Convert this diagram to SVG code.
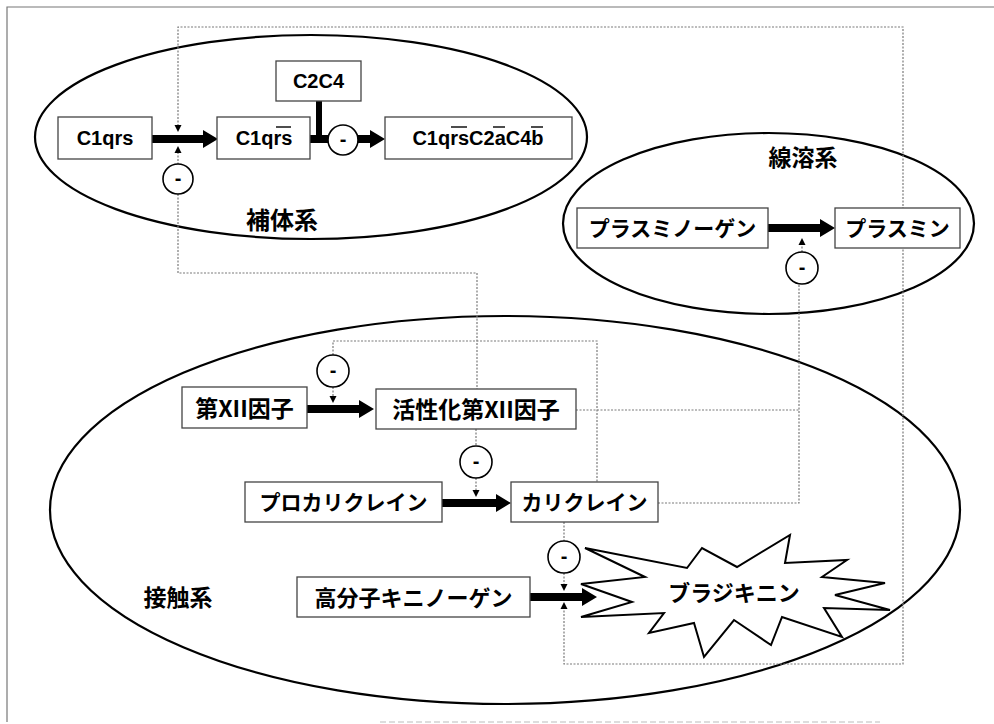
<svg xmlns="http://www.w3.org/2000/svg" width="994" height="724" viewBox="0 0 994 724">
<style>
.bg{fill:#fff}
.frame{fill:none;stroke:#777;stroke-width:1.2}
.sys{fill:none;stroke:#000;stroke-width:2.2}
.dot{fill:none;stroke:#7a7a7a;stroke-width:1.2;stroke-dasharray:2 1.5}
.box{fill:#fff;stroke:#444;stroke-width:1.3}
.thick{fill:#000;stroke:none}
.inh{fill:#fff;stroke:#000;stroke-width:1.6}
.tip{fill:#000}
.lat{font-family:"Liberation Sans",Arial,sans-serif;font-weight:bold;font-size:20px;fill:#000;text-anchor:middle}
.jp{font-family:"Noto Sans CJK JP","Noto Sans CJK SC",sans-serif;font-weight:bold;fill:#000;text-anchor:middle}
.minus{font-family:"Liberation Sans",Arial,sans-serif;font-weight:bold;font-size:20px;fill:#000;text-anchor:middle}
.ovl{stroke:#000;stroke-width:1.4}
.star{fill:#fff;stroke:#000;stroke-width:2}
</style>
<rect class="bg" x="0" y="0" width="994" height="724"/>
<path class="frame" d="M7,722 V7 H994"/>
<path d="M380,722 H880" fill="none" stroke="#bbb" stroke-width="1" stroke-dasharray="6 3"/>

<g id="systems">
  <ellipse class="sys" cx="311" cy="137" rx="276" ry="102"/>
  <ellipse class="sys" cx="768.5" cy="223.5" rx="205.5" ry="90.5"/>
  <ellipse class="sys" cx="505" cy="510" rx="455" ry="194"/>
</g>

<g id="connectors">
  <path class="dot" d="M178,126 V27 H903 V664 H564 V608"/>
  <path class="dot" d="M178,152 V164"/>
  <path class="dot" d="M178,194 V273 H477 V389"/>
  <path class="dot" d="M333,355 V341 H597 V482"/>
  <path class="dot" d="M333,387 V396"/>
  <path class="dot" d="M476,429 V446"/>
  <path class="dot" d="M476,478 V491"/>
  <path class="dot" d="M564,522 V541"/>
  <path class="dot" d="M564,573 V585"/>
  <path class="dot" d="M576,410 H799"/>
  <path class="dot" d="M658,503 H799 V284"/>
  <path class="dot" d="M802,252 V244"/>
  <path class="tip" d="M174.5,125 H181.5 L178,132 Z"/>
  <path class="tip" d="M174.5,153 H181.5 L178,146 Z"/>
  <path class="tip" d="M798.5,245 H805.5 L802,238 Z"/>
  <path class="tip" d="M329.5,396 H336.5 L333,403 Z"/>
  <path class="tip" d="M472.5,490 H479.5 L476,497 Z"/>
  <path class="tip" d="M560.5,584 H567.5 L564,591 Z"/>
  <path class="tip" d="M560.5,609 H567.5 L564,602 Z"/>
  <path class="thick" d="M152,135 H203 V130 L218,139 L203,148 V143 H152 Z"/>
  <path class="thick" d="M310,135 H330 V143 H310 Z"/>
  <path class="thick" d="M316,101 H322 V139 H316 Z"/>
  <path class="thick" d="M356,135 H370 V130 L385,139 L370,148 V143 H356 Z"/>
  <path class="thick" d="M768,224 H820 V219 L835,228 L820,237 V232 H768 Z"/>
  <path class="thick" d="M307,405 H359 V400 L374,409 L359,418 V413 H307 Z"/>
  <path class="thick" d="M442,499 H496 V494 L511,503 L496,512 V507 H442 Z"/>
  <path class="thick" d="M530,593 H582 V588 L597,597 L582,606 V601 H530 Z"/>
</g>

<g id="C1qrs">
  <rect class="box" x="58" y="117" width="94" height="42"/>
  <text class="lat" x="105" y="145">C1qrs</text>
</g>
<g id="C1qrs_act">
  <rect class="box" x="217" y="117" width="93" height="42"/>
  <text class="lat" x="264" y="145">C1qrs</text>
  <line class="ovl" x1="276" y1="127" x2="291" y2="127"/>
</g>
<g id="C2C4">
  <rect class="box" x="276" y="61" width="85" height="40"/>
  <text class="lat" x="318.5" y="88">C2C4</text>
</g>
<g id="C1qrsC2aC4b">
  <rect class="box" x="385" y="117" width="187" height="42"/>
  <text class="lat" x="478" y="145">C1qrsC2aC4b</text>
  <line class="ovl" x1="451" y1="127" x2="467" y2="127"/>
  <line class="ovl" x1="493" y1="127" x2="505" y2="127"/>
  <line class="ovl" x1="531" y1="127" x2="543" y2="127"/>
</g>
<g id="label_hotai"><text class="jp" x="282" y="229" font-size="24">補体系</text></g>

<g id="label_senyou"><text class="jp" x="803" y="166" font-size="23">線溶系</text></g>
<g id="plasminogen">
  <rect class="box" x="577" y="208" width="191" height="40"/>
  <text class="jp" x="672.5" y="236" font-size="21">プラスミノーゲン</text>
</g>
<g id="plasmin">
  <rect class="box" x="835" y="208" width="125" height="40"/>
  <text class="jp" x="897.5" y="236" font-size="21">プラスミン</text>
</g>

<g id="label_sesshoku"><text class="jp" x="178" y="606" font-size="23">接触系</text></g>
<g id="factorXII">
  <rect class="box" x="182" y="387" width="125" height="41"/>
  <text class="jp" x="244.5" y="416.5" font-size="23">第XII因子</text>
</g>
<g id="factorXIIa">
  <rect class="box" x="376" y="389" width="200" height="40"/>
  <text class="jp" x="476" y="418" font-size="23">活性化第XII因子</text>
</g>
<g id="prekallikrein">
  <rect class="box" x="245" y="482" width="197" height="40"/>
  <text class="jp" x="343.5" y="510" font-size="21">プロカリクレイン</text>
</g>
<g id="kallikrein">
  <rect class="box" x="511" y="482" width="147" height="40"/>
  <text class="jp" x="584.5" y="510" font-size="21">カリクレイン</text>
</g>
<g id="HMWK">
  <rect class="box" x="297" y="577" width="233" height="40"/>
  <text class="jp" x="413.5" y="605.5" font-size="22">高分子キニノーゲン</text>
</g>
<g id="bradykinin">
  <polygon class="star" points="585,548 687,568 702,548 737,567 790,535 785,563 847,560 822,577 885,583 835,595 890,610 824,608 842,637 782,617 771,645 734,620 704,657 694,623 649,633 664,613 581,617 632,602 581,584 645,577"/>
  <text class="jp" x="734" y="601" font-size="22" font-weight="normal">ブラジキニン</text>
</g>

<g id="inhibitors">
  <g id="inh1"><circle class="inh" cx="178" cy="179" r="15"/><text class="minus" x="178" y="185">-</text></g>
  <g id="inh2"><circle class="inh" cx="343" cy="140" r="15"/><text class="minus" x="343" y="146">-</text></g>
  <g id="inh3"><circle class="inh" cx="802" cy="268" r="16"/><text class="minus" x="802" y="274">-</text></g>
  <g id="inh4"><circle class="inh" cx="333" cy="371" r="16"/><text class="minus" x="333" y="377">-</text></g>
  <g id="inh5"><circle class="inh" cx="476" cy="462" r="16"/><text class="minus" x="476" y="468">-</text></g>
  <g id="inh6"><circle class="inh" cx="564" cy="557" r="16"/><text class="minus" x="564" y="563">-</text></g>
</g>
</svg>
